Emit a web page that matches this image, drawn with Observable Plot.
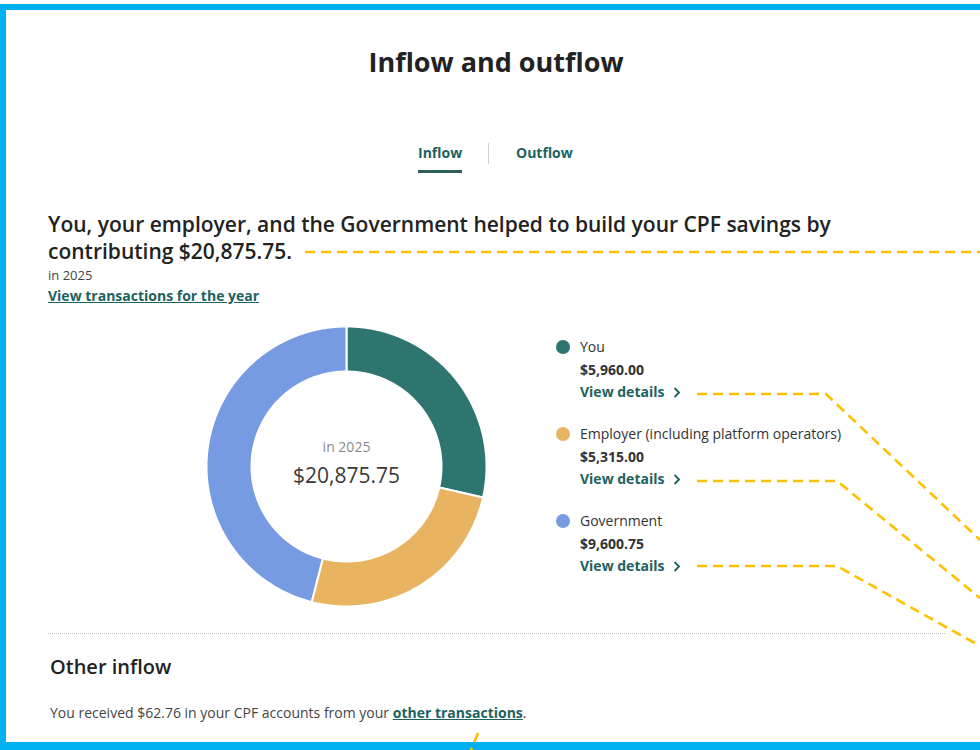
<!DOCTYPE html>
<html>
<head>
<meta charset="utf-8">
<script src="https://cdn.jsdelivr.net/npm/d3@7"></script>
<script src="https://cdn.jsdelivr.net/npm/@observablehq/plot@0.6"></script>
<style>
  html, body { margin: 0; padding: 0; background: #fff; }
  body { width: 980px; height: 750px; position: relative; overflow: hidden; font-family: "Open Sans", sans-serif; color: #222; }
  .abs { position: absolute; white-space: nowrap; }
  .frame { position: absolute; left: 0; top: 4px; width: 980px; box-sizing: border-box; border-top: 6px solid #00b0f0; border-left: 6px solid #00b0f0; border-bottom: 8px solid #00b0f0; height: 746px; }
  .teal { color: #1d625e; }
  .legend-item { position: absolute; left: 556px; width: 320px; white-space: nowrap; }
  .legend-item div { white-space: nowrap; }
  .dot { position: absolute; left: 0; width: 14px; height: 14px; border-radius: 50%; }
  .lbl { position: absolute; left: 24px; font-size: 14px; color: #333; line-height: 18px; }
  .amt { position: absolute; left: 24px; font-size: 14px; font-weight: 700; color: #333; line-height: 18px; }
  .vd { position: absolute; left: 24px; font-size: 14px; font-weight: 700; color: #1d625e; line-height: 18px; }
</style>
</head>
<body>
<script>
// ---- data ----
const categories = ["You", "Employer (including platform operators)", "Government"];
const amounts = [5960.00, 5315.00, 9600.75];
const colors = ["#2e746f", "#e8b462", "#769be3"];
const year = 2025;
const otherInflow = 62.76;

const total = d3.sum(amounts);
const fmt = v => "$" + d3.format(",.2f")(v);
</script>

<div class="frame"></div>

<div class="abs" style="left:0;width:992px;text-align:center;top:43px;font-size:27px;font-weight:700;color:#222;">Inflow and outflow</div>

<!-- tabs -->
<div class="abs teal" style="left:418px;top:144px;font-size:14px;font-weight:700;line-height:18px;">Inflow</div>
<div class="abs" style="left:418px;top:170px;width:44px;height:3px;background:#2b5d5b;"></div>
<div class="abs" style="left:488px;top:143px;width:1px;height:21px;background:#c9d6d6;"></div>
<div class="abs teal" style="left:516px;top:144px;font-size:14px;font-weight:700;line-height:18px;">Outflow</div>

<!-- heading -->
<div class="abs" id="heading" style="left:48px;top:211px;font-size:21px;font-weight:600;line-height:27px;color:#222;"></div>
<div class="abs" id="inyear" style="left:48px;top:267px;font-size:13px;color:#444;line-height:16px;"></div>
<div class="abs teal" style="left:48px;top:287px;font-size:14px;font-weight:700;text-decoration:underline;line-height:18px;">View transactions for the year</div>

<div id="chart" class="abs" style="left:196px;top:316px;"></div>
<div id="legend"></div>

<div class="abs" style="left:48px;top:633px;width:897px;border-top:1px dotted #b9c2c2;"></div>
<div class="abs" style="left:50px;top:654px;font-size:20px;font-weight:600;color:#222;line-height:26px;">Other inflow</div>
<div class="abs" id="other" style="left:50px;top:704px;font-size:14px;color:#444;line-height:18px;"></div>

<svg class="abs" style="left:0;top:0;pointer-events:none;" width="980" height="750">
  <g fill="none" stroke="#ffc000" stroke-width="2.6" stroke-dasharray="10 6">
    <path d="M305 252 H980"/>
    <path d="M697 394 H826 L980 540"/>
    <path d="M697 481 H837 L980 598"/>
    <path d="M697 566 H837 L980 646"/>
    <path d="M478 733 L471 750"/>
  </g>
</svg>

<script>
document.getElementById("heading").innerHTML =
  "You, your employer, and the Government helped to build your CPF savings by<br>contributing " + fmt(total) + ".";
document.getElementById("inyear").textContent = "in " + year;
document.getElementById("other").innerHTML =
  "You received " + fmt(otherInflow) + " in your CPF accounts from your <b class='teal' style='text-decoration:underline'>other transactions</b>.";

// ---- donut via Plot ----
const W = 300, R = 140, r = 95;
const pie = d3.pie().sort(null).value(d => d.amount)(categories.map((c, i) => ({cat: c, amount: amounts[i]})));
const pts = [];
for (const s of pie) {
  const n = Math.max(2, Math.ceil((s.endAngle - s.startAngle) / (Math.PI / 180)));
  for (let k = 0; k <= n; k++) {
    const a = s.startAngle + (s.endAngle - s.startAngle) * k / n;
    pts.push({cat: s.data.cat, x: R * Math.sin(a), y: R * Math.cos(a)});
  }
  for (let k = n; k >= 0; k--) {
    const a = s.startAngle + (s.endAngle - s.startAngle) * k / n;
    pts.push({cat: s.data.cat, x: r * Math.sin(a), y: r * Math.cos(a)});
  }
}
const chart = Plot.plot({
  width: W, height: W,
  margin: 0,
  x: {domain: [-W / 2, W / 2], axis: null},
  y: {domain: [-W / 2, W / 2], axis: null},
  color: {domain: categories, range: colors},
  style: {fontFamily: "Open Sans, sans-serif", background: "transparent"},
  marks: [
    Plot.line(pts, {x: "x", y: "y", z: "cat", fill: "cat", stroke: "white", strokeWidth: 2, curve: "linear-closed"}),
    Plot.text(["in " + year], {frameAnchor: "middle", dy: -19, fontSize: 14, fill: "#8a8a8a"}),
    Plot.text([fmt(total)], {frameAnchor: "middle", dy: 10, fontSize: 21, fill: "#3a3a3a"})
  ]
});
document.getElementById("chart").appendChild(chart);

// ---- legend ----
const legend = document.getElementById("legend");
categories.forEach((c, i) => {
  const top = 338 + i * 87;
  const item = document.createElement("div");
  item.className = "legend-item";
  item.style.top = top + "px";
  item.innerHTML =
    `<div class="dot" style="top:2px;background:${colors[i]}"></div>` +
    `<div class="lbl" style="top:0">${c}</div>` +
    `<div class="amt" style="top:23px">${fmt(amounts[i])}</div>` +
    `<div class="vd" style="top:45px">View details<svg width="8" height="11" style="margin-left:9px;vertical-align:-1px"><path d="M1.5 1 L6 5.5 L1.5 10" fill="none" stroke="#1d625e" stroke-width="1.8"/></svg></div>`;
  legend.appendChild(item);
});
</script>
</body>
</html>
